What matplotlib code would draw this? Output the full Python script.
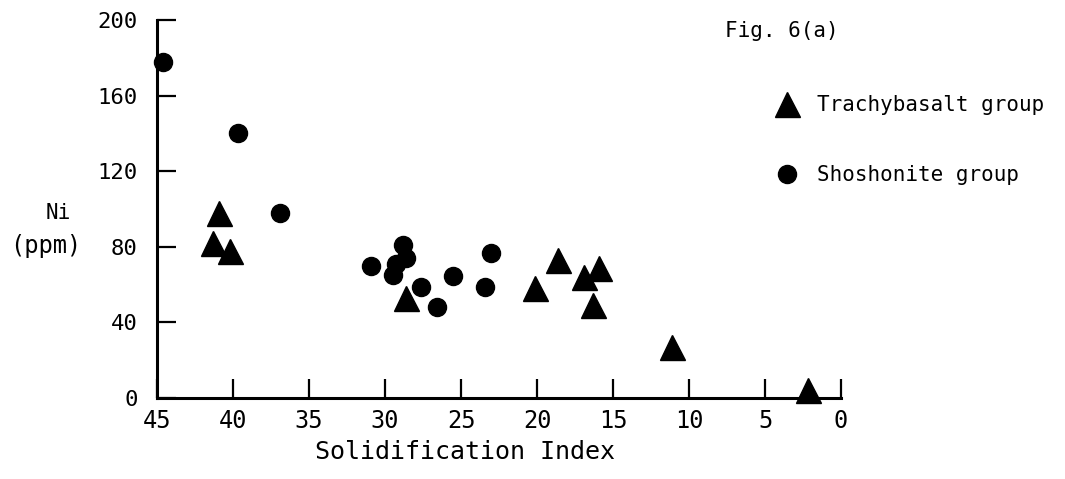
import matplotlib
matplotlib.use("Agg")
import matplotlib.pyplot as plt

# Ni against solidification index, two rock groups
trachy_si = [40.9, 41.3, 40.2, 28.6, 20.1, 18.6, 16.9, 15.9, 16.3, 11.1, 2.2]
trachy_ni = [98, 82, 78, 53, 58, 73, 64, 69, 49, 27, 4]

shosh_si = [44.6, 39.7, 36.9, 30.9, 28.8, 28.6, 29.3, 29.5, 27.6, 26.6, 25.5, 23.0, 23.4]
shosh_ni = [178, 140, 98, 70, 81, 74, 71, 65, 59, 48, 64.5, 77, 59]

x_ticks = [45, 40, 35, 30, 25, 20, 15, 10, 5, 0]
y_ticks = [0, 40, 80, 120, 160, 200]

# wide lettering-guide look for all the text
plt.rcParams["font.family"] = ["DejaVu Sans Mono", "DejaVu Sans"]

fig = plt.figure(figsize=(10.65, 4.79), dpi=100)
ax = fig.add_axes([0.1474, 0.169, 0.6423, 0.789])

ax.plot(trachy_si, trachy_ni, linestyle="none", marker="^", markersize=18,
        color="black", label="Trachybasalt group", clip_on=False)
ax.plot(shosh_si, shosh_ni, linestyle="none", marker="o", markersize=13,
        color="black", label="Shoshonite group", clip_on=False)

ax.set_xlim(45, 0)
ax.set_ylim(0, 200)
ax.set_xticks(x_ticks)
ax.set_yticks(y_ticks)
ax.spines["top"].set_visible(False)
ax.spines["right"].set_visible(False)
for side in ("left", "bottom"):
    ax.spines[side].set_linewidth(2.2)
ax.tick_params(axis="both", direction="in", length=14, width=1.6)
ax.tick_params(axis="x", pad=8, labelsize=17)
ax.tick_params(axis="y", pad=14, labelsize=16)

fig.text(0.4366, 0.056, "Solidification Index", fontsize=18, ha="center", va="center")
fig.text(0.055, 0.555, "Ni", fontsize=15, ha="center", va="center")
fig.text(0.043, 0.487, "(ppm)", fontsize=17, ha="center", va="center")

fig.text(0.681, 0.935, "Fig. 6(a)", fontsize=15, ha="left", va="center")
fig.legend(loc="upper left", bbox_to_anchor=(0.71, 0.84), frameon=False,
           fontsize=15, labelspacing=2.4, handletextpad=0.8, handlelength=1.2)

fig.savefig("out.png", dpi=100)
